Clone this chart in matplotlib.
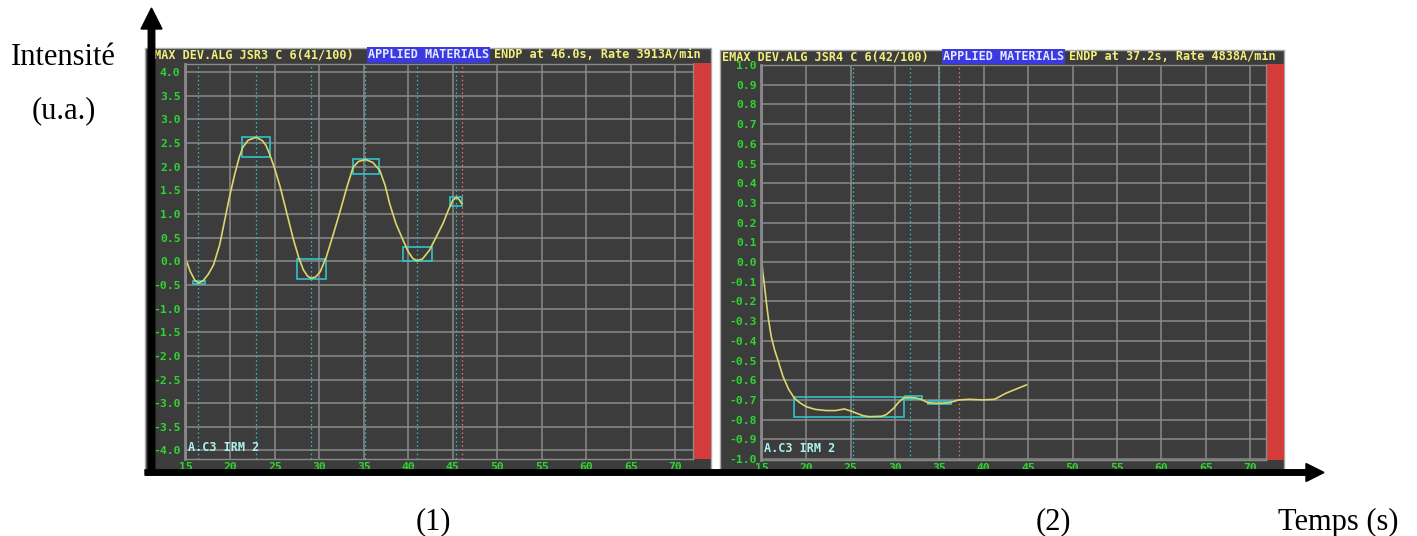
import matplotlib
matplotlib.use("Agg")
from matplotlib import pyplot as plt
from matplotlib.patches import Rectangle, FancyArrow

# ---- data ----
left_x = [15.0, 15.5, 16.0, 16.4, 16.9, 17.5, 18.1, 18.8, 19.4, 19.9, 20.5, 21.0, 21.4, 22.0, 22.9,
          23.6, 24.0, 24.4, 25.0, 25.6, 26.3, 27.1, 27.7, 28.2, 28.7, 29.1, 29.6, 30.1, 30.8, 31.6,
          32.4, 33.1, 33.8, 34.4, 35.2, 36.0, 36.8, 37.4, 37.9, 38.6, 39.4, 40.0, 40.5, 41.0, 41.6,
          42.4, 43.1, 43.9, 44.5, 45.0, 45.4, 45.7, 46.0]
left_y = [0.04, -0.22, -0.40, -0.46, -0.42, -0.28, -0.08, 0.35, 0.90, 1.36, 1.85, 2.20, 2.41, 2.56, 2.62,
          2.55, 2.45, 2.27, 1.95, 1.57, 1.05, 0.45, 0.07, -0.18, -0.32, -0.36, -0.33, -0.22, 0.10, 0.59,
          1.10, 1.57, 1.99, 2.11, 2.15, 2.09, 1.92, 1.60, 1.22, 0.80, 0.45, 0.20, 0.06, 0.01, 0.05,
          0.24, 0.50, 0.80, 1.08, 1.29, 1.35, 1.31, 1.22]
left_boxes = [(15.75, 17.1, -0.48, -0.42), (21.3, 24.5, 2.20, 2.62), (27.5, 30.7, -0.38, 0.04),
              (33.8, 36.7, 1.85, 2.17), (39.4, 42.7, 0.0, 0.30), (44.7, 46.0, 1.16, 1.35)]
left_marks = [16.4, 22.9, 29.1, 35.1, 41.0, 45.4]
left_endp = 46.0

right_x = [15.0, 15.11, 15.26, 15.49, 15.75, 16.05, 16.43, 16.8, 17.37, 18.0, 18.67, 19.3, 19.98, 21.0,
           22.2, 23.3, 24.3, 25.2, 25.8, 26.4, 27.1, 28.5, 29.0, 29.4, 29.9, 30.3, 30.7, 31.1, 31.8,
           32.3, 32.8, 33.3, 33.7, 34.6, 35.4, 36.1, 36.7, 37.2, 38.4, 39.9, 41.2, 41.8, 42.5, 43.7, 44.8]
right_y = [0.0, -0.056, -0.107, -0.2, -0.293, -0.378, -0.446, -0.497, -0.58, -0.645, -0.692, -0.715,
           -0.734, -0.748, -0.754, -0.754, -0.746, -0.759, -0.77, -0.78, -0.785, -0.783, -0.775, -0.76,
           -0.74, -0.717, -0.70, -0.688, -0.688, -0.69, -0.695, -0.705, -0.714, -0.717, -0.716, -0.714,
           -0.706, -0.70, -0.697, -0.70, -0.697, -0.683, -0.666, -0.644, -0.624]
right_boxes = [(18.6, 31.0, -0.785, -0.686), (31.1, 33.0, -0.695, -0.68), (33.7, 36.3, -0.722, -0.708)]
right_marks = [25.3, 31.7, 35.0]
right_endp = 37.2

x_ticks = list(range(15, 75, 5))
left_yticks = [-4.0, -3.5, -3.0, -2.5, -2.0, -1.5, -1.0, -0.5, 0.0, 0.5, 1.0, 1.5, 2.0, 2.5, 3.0, 3.5, 4.0]
right_yticks = [-1.0, -0.9, -0.8, -0.7, -0.6, -0.5, -0.4, -0.3, -0.2, -0.1, 0.0,
                0.1, 0.2, 0.3, 0.4, 0.5, 0.6, 0.7, 0.8, 0.9, 1.0]
left_title = ["EMAX DEV.ALG JSR3 C 6(41/100)", "APPLIED MATERIALS", "ENDP at 46.0s, Rate 3913A/min"]
right_title = ["EMAX DEV.ALG JSR4 C 6(42/100)", "APPLIED MATERIALS", "ENDP at 37.2s, Rate 4838A/min"]

# ---- style ----
W, H = 1417, 536
DARK = "#3c3c3c"
GRID = "#8a8a8a"
GREEN = "#30d430"
YEL = "#f2f07a"
CYAN = "#2fc3c9"
CURVE = "#dcd66c"
RED = "#d43c3c"
MONO = "DejaVu Sans Mono"
SERIF = "Liberation Serif"
plt.rcParams["axes.unicode_minus"] = False


def px_box(l, t, r, b):
    return [l / W, 1 - b / H, (r - l) / W, (b - t) / H]


fig = plt.figure(figsize=(W / 100, H / 100), dpi=100)

bg = fig.add_axes([0, 0, 1, 1], zorder=-1)
bg.set_xlim(0, W)
bg.set_ylim(H, 0)
bg.axis("off")


def screen(l, t, r, b, plot_t, plot_b, title, ty, tx):
    bg.add_patch(Rectangle((l, t), r - l, b - t, fc=DARK, ec="#a8a8a8", lw=1))
    bg.add_patch(Rectangle((r - 18, plot_t), 18, plot_b - plot_t, fc=RED, ec="none"))
    bg.text(tx[0], ty, title[0], color=YEL, family=MONO, weight="bold", size=8.5, va="center")
    bg.text(tx[1], ty, title[1], color="#e8e8ff", family=MONO, weight="bold", size=8.5, va="center",
            bbox=dict(fc="#3a3ae0", ec="none", pad=0.8))
    bg.text(tx[2], ty, title[2], color=YEL, family=MONO, weight="bold", size=8.5, va="center")


screen(145, 48, 711, 471, 63, 459, left_title, 55.0, (147, 368, 494))
screen(720, 50, 1284, 471, 64, 460, right_title, 56.5, (722, 943, 1069))


def panel(rect, xlim, ylim, yticks, xs, ys, boxes, marks, endp):
    ax = fig.add_axes(rect)
    ax.set_facecolor(DARK)
    ax.set_xlim(*xlim)
    ax.set_ylim(*ylim)
    ax.set_xticks(x_ticks)
    ax.set_yticks(yticks)
    ax.set_xticklabels([str(t) for t in x_ticks])
    ax.set_yticklabels(["%.1f" % t for t in yticks])
    ax.grid(True, color=GRID, lw=1.1)
    ax.set_axisbelow(True)
    for lab in ax.get_xticklabels() + ax.get_yticklabels():
        lab.set_family(MONO)
        lab.set_weight("bold")
        lab.set_color(GREEN)
        lab.set_fontsize(8.2)
    ax.tick_params(axis="y", length=0, pad=3.2)
    ax.tick_params(axis="x", length=0, pad=2.0)
    for s in ax.spines.values():
        s.set_color(GRID)
        s.set_linewidth(1)
    ax.spines["left"].set_linewidth(2)
    for m in marks:
        ax.axvline(m, color=CYAN, lw=0.9, ls=(0, (1.2, 2.2)))
    ax.axvline(endp, color="#d87878", lw=0.9, ls=(0, (1.2, 2.2)))
    for x0, x1, y0, y1 in boxes:
        ax.add_patch(Rectangle((x0, y0), x1 - x0, y1 - y0, fill=False, ec=CYAN, lw=1.2))
    ax.plot(xs, ys, color=CURVE, lw=1.2)
    ax.text(0.005, 0.012, "A.C3 IRM 2", transform=ax.transAxes, color="#aef2f2",
            family=MONO, weight="bold", size=8.5, va="bottom", ha="left")
    return ax


ax1 = panel(px_box(185, 64, 693, 459), (14.9, 72.0), (-4.18, 4.17), left_yticks,
            left_x, left_y, left_boxes, left_marks, left_endp)
ax2 = panel(px_box(761, 65, 1266, 460), (14.9, 71.8), (-1.005, 1.0), right_yticks,
            right_x, right_y, right_boxes, right_marks, right_endp)

# ---- big axis arrows and labels ----
ov = fig.add_axes([0, 0, 1, 1], zorder=10)
ov.set_xlim(0, W)
ov.set_ylim(H, 0)
ov.axis("off")
ov.patch.set_alpha(0)
ov.add_patch(FancyArrow(151.5, 471, 0, 8 - 471, width=6.5, head_width=21, head_length=21,
                        length_includes_head=True, color="black"))
ov.add_patch(FancyArrow(145, 472.5, 1324 - 145, 0, width=5.5, head_width=18, head_length=18,
                        length_includes_head=True, color="black"))

ov.text(63, 65, "Intensité", family=SERIF, size=22, ha="center", va="baseline")
ov.text(64, 118, "(u.a.)", family=SERIF, size=22, ha="center", va="baseline")
ov.text(433, 529, "(1)", family=SERIF, size=22, ha="center", va="baseline")
ov.text(1053, 529, "(2)", family=SERIF, size=22, ha="center", va="baseline")
ov.text(1338, 530, "Temps (s)", family=SERIF, size=22, ha="center", va="baseline")

fig.savefig("out.png", dpi=100)
